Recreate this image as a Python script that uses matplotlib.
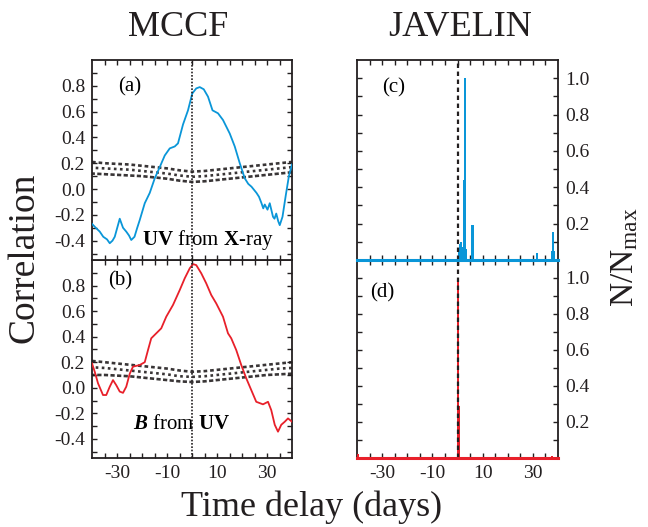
import matplotlib
matplotlib.use("Agg")
import matplotlib.pyplot as plt
import numpy as np

plt.rcParams.update({
    "font.family": ["Liberation Serif", "DejaVu Serif"],
    "mathtext.fontset": "custom",
    "mathtext.rm": "Liberation Serif",
    "mathtext.it": "Liberation Serif:italic",
    "mathtext.bf": "Liberation Serif:bold",
    "mathtext.bfit": "Liberation Serif:italic:bold",
    "axes.unicode_minus": False,
})

BLUE = "#0a96d8"
RED = "#e8202a"
INK = "#231f20"

# ---- MCCF: UV from X-ray (panel a) ----
lag_a = [-40, -38.5, -36.9, -35.5, -34, -32.9, -31.8, -30.9, -29.9, -28.9, -27.6,
         -26.3, -25.2, -24.3, -23, -21.9, -20.9, -18.9, -16.9, -14.9, -12.9, -10.9,
         -8.9, -6.9, -5.6, -3.6, -1.6, 0.1, 1.7, 3.1, 4.7, 6.4, 8.2, 10.4, 12.4,
         15.1, 17.1, 19.1, 21.1, 22.5, 23.8, 25.8, 26.8, 27.8, 28.5, 29.1, 30.2,
         31.1, 32.4, 33.0, 33.7, 34.5, 35.1, 36.2, 37.5, 38.8, 40]
ccf_a = [-0.27, -0.30, -0.33, -0.37, -0.39, -0.42, -0.40, -0.37, -0.30, -0.23, -0.30,
         -0.33, -0.36, -0.395, -0.37, -0.30, -0.24, -0.11, -0.03, 0.083, 0.17, 0.26,
         0.315, 0.33, 0.354, 0.50, 0.61, 0.74, 0.78, 0.79, 0.773, 0.716, 0.61, 0.587,
         0.535, 0.43, 0.33, 0.20, 0.083, 0.04, 0.018, -0.03, -0.06, -0.11, -0.15, -0.12,
         -0.16, -0.11, -0.215, -0.23, -0.19, -0.25, -0.28, -0.215, -0.05, 0.105, 0.19]

# ---- MCCF: B from UV (panel b) ----
lag_b = [-40, -38.9, -37.6, -35.6, -34.3, -32.9, -31.6, -30.3, -28.9, -27.6, -26.3,
         -24.9, -23.6, -20.9, -18.9, -17.6, -16.3, -14.3, -12.3, -10.3, -7.6, -4.9,
         -2.9, -0.9, 0.4, 1.7, 3.7, 5.7, 7.7, 9.7, 12.4, 14.4, 15.7, 17.7, 19.7,
         21.7, 23.7, 25.7, 28.4, 30.4, 31.7, 33.1, 34.4, 35.7, 37.1, 38.4, 40]
ccf_b = [0.19, 0.125, 0.035, -0.057, -0.057, 0.008, 0.06, 0.02, -0.03, -0.04, 0.008,
         0.11, 0.165, 0.178, 0.20, 0.295, 0.387, 0.426, 0.465, 0.556, 0.648, 0.765,
         0.857, 0.935, 0.968, 0.96, 0.896, 0.817, 0.726, 0.66, 0.556, 0.426, 0.387,
         0.295, 0.178, 0.074, -0.018, -0.11, -0.13, -0.11, -0.175, -0.29, -0.344,
         -0.29, -0.266, -0.24, -0.266]

# ---- Significance band of the simulated correlations ----
band_lag = [-40, -35, -30, -25, -20, -15, -10, -5, 0, 5, 10, 15, 20, 25, 30, 35, 40]
band_a_hi = [0.21, 0.20, 0.195, 0.19, 0.18, 0.17, 0.16, 0.145, 0.135, 0.14, 0.15,
             0.16, 0.17, 0.18, 0.19, 0.20, 0.21]
band_a_mid = [0.165, 0.16, 0.155, 0.15, 0.14, 0.13, 0.12, 0.105, 0.095, 0.10, 0.11,
              0.12, 0.13, 0.14, 0.15, 0.16, 0.17]
band_a_lo = [0.12, 0.115, 0.11, 0.105, 0.10, 0.09, 0.08, 0.065, 0.055, 0.06, 0.07,
             0.08, 0.09, 0.10, 0.11, 0.12, 0.13]
band_b_hi = [0.21, 0.20, 0.19, 0.18, 0.17, 0.16, 0.15, 0.135, 0.125, 0.13, 0.14,
             0.15, 0.16, 0.17, 0.18, 0.19, 0.20]
band_b_mid = [0.16, 0.155, 0.145, 0.135, 0.125, 0.115, 0.105, 0.09, 0.085, 0.09, 0.10,
              0.11, 0.12, 0.13, 0.14, 0.15, 0.155]
band_b_lo = [0.10, 0.10, 0.095, 0.09, 0.08, 0.07, 0.06, 0.05, 0.045, 0.05, 0.06,
             0.07, 0.08, 0.09, 0.10, 0.105, 0.11]

# ---- JAVELIN lag posteriors (N/Nmax) ----
jav_c_lag = [0.5, 1.0, 1.5, 2.0, 2.5, 3.0, 3.5, 6.0, 31.5, 37.5, 38.0, 38.5]
jav_c_n = [0.06, 0.09, 0.10, 0.07, 0.44, 1.0, 0.06, 0.19, 0.04, 0.05, 0.155, 0.05]
jav_d_lag = [-39.6, 0.2, 0.7, 37.5]
jav_d_n = [0.02, 1.0, 0.29, 0.012]

corr_ticks = [-0.4, -0.2, 0.0, 0.2, 0.4, 0.6, 0.8]
corr_tick_labels = ["-0.4", "-0.2", "0.0", "0.2", "0.4", "0.6", "0.8"]
n_ticks = [0.2, 0.4, 0.6, 0.8, 1.0]
n_tick_labels = ["0.2", "0.4", "0.6", "0.8", "1.0"]
lag_ticks = [-30, -10, 10, 30]
lag_tick_labels = ["-30", "-10", "10", "30"]

fig = plt.figure(figsize=(6.48, 5.27), dpi=100)
W, H = 648.0, 527.0


def box(l, t, r, b):
    return [l / W, 1 - b / H, (r - l) / W, (b - t) / H]


ax_b = fig.add_axes(box(92, 260, 292, 458))
ax_a = fig.add_axes(box(92, 60, 292, 260))
ax_d = fig.add_axes(box(357, 260, 558, 458))
ax_c = fig.add_axes(box(357, 60, 558, 260))
ax_c.set_zorder(2)
ax_c.patch.set_alpha(0)


def style(ax, corr, show_x):
    ax.set_xlim(-40, 40)
    ax.set_xticks(lag_ticks)
    ax.set_xticks([t for t in range(-35, 40, 5) if t not in lag_ticks], minor=True)
    if show_x:
        ax.set_xticklabels(lag_tick_labels)
    else:
        ax.set_xticklabels([])
    if corr:
        ax.set_ylim(-0.55, 1.0)
        ax.set_yticks(corr_ticks)
        ax.set_yticklabels(corr_tick_labels)
        ax.set_yticks(np.arange(-0.5, 0.95, 0.2), minor=True)
    else:
        ax.set_ylim(0, 1.1)
        ax.set_yticks(n_ticks)
        ax.set_yticklabels(n_tick_labels)
        ax.set_yticks(np.arange(0.1, 1.0, 0.2), minor=True)
    ax.tick_params(which="both", direction="in", length=3.5, width=1.0,
                   top=True, bottom=True, left=True, right=True,
                   colors=INK, labelsize=14, pad=5)
    if not corr:
        ax.tick_params(which="both", labelleft=False, labelright=True)
    for s in ax.spines.values():
        s.set_linewidth(1.3)
        s.set_color(INK)


for ax, lag, ccf, col, hi, mid, lo in [
        (ax_a, lag_a, ccf_a, BLUE, band_a_hi, band_a_mid, band_a_lo),
        (ax_b, lag_b, ccf_b, RED, band_b_hi, band_b_mid, band_b_lo)]:
    for lvl, pat in ((hi, (0.0, (1.4, 1.1))), (mid, (0.9, (1.0, 1.3))),
                     (lo, (0.5, (1.6, 0.9)))):
        ax.plot(band_lag, lvl, color=INK, lw=1.9, ls=pat, alpha=0.9, zorder=2)
    ax.plot(lag, ccf, color=col, lw=1.3, zorder=3)
    ax.axvline(0, color=INK, lw=1.2, ls=(0, (1, 1)), zorder=4)

for ax, lag, n, col in [(ax_c, jav_c_lag, jav_c_n, BLUE),
                        (ax_d, jav_d_lag, jav_d_n, RED)]:
    ax.bar(lag, n, width=0.9, color=col, edgecolor="none", zorder=3)
    ax.axhline(0, color=col, lw=2.2, zorder=5, clip_on=False)
    ax.axvline(0, color=INK, lw=1.6, ls=(0, (2, 1.6)), zorder=4)

style(ax_a, True, False)
style(ax_b, True, True)
style(ax_c, False, False)
style(ax_d, False, True)

ax_a.text(0.13, 0.865, "(a)", transform=ax_a.transAxes, fontsize=15, va="center", ha="left")
ax_b.text(0.08, 0.894, "(b)", transform=ax_b.transAxes, fontsize=15, va="center", ha="left")
ax_c.text(0.123, 0.8625, "(c)", transform=ax_c.transAxes, fontsize=15, va="center", ha="left")
ax_d.text(0.065, 0.833, "(d)", transform=ax_d.transAxes, fontsize=15, va="center", ha="left")

ax_a.text(0.58, 0.10, r"$\mathbf{UV}$ from $\mathbf{X}$-ray", transform=ax_a.transAxes,
          fontsize=15, va="center", ha="center", zorder=6)
ax_b.text(0.447, 0.167, r"$\mathbfit{B}$ from $\mathbf{UV}$", transform=ax_b.transAxes,
          fontsize=15, va="center", ha="center", zorder=6)

fig.text(178 / W, 1 - 27 / H, "MCCF", fontsize=26, ha="center", va="center", color=INK)
fig.text(460 / W, 1 - 27 / H, "JAVELIN", fontsize=26, ha="center", va="center", color=INK)
fig.text(312 / W, 1 - 507 / H, "Time delay (days)", fontsize=26, ha="center", va="center", color=INK)
fig.text(24 / W, 1 - 258 / H, "Correlation", fontsize=27, rotation=90,
         ha="center", va="center", color=INK)
fig.text(625 / W, 1 - 257 / H, r"N/N$_{\rm max}$", fontsize=24, rotation=90,
         ha="center", va="center", color=INK)

fig.savefig("out.png", dpi=100)
